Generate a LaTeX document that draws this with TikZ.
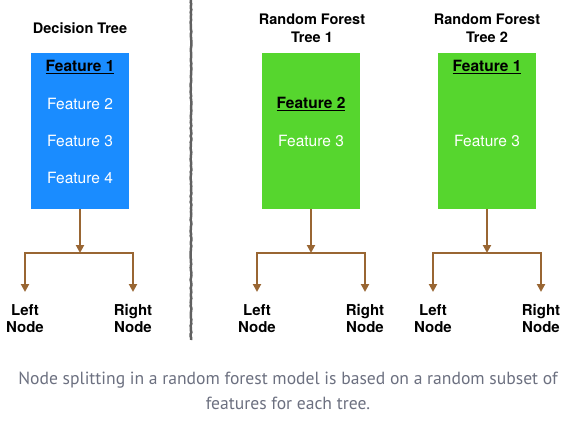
\documentclass[tikz,border=0pt]{standalone}
\usepackage{fontspec}
\setmainfont{TeX Gyre Heros}
\newfontfamily\capfont{PT Sans}
\usetikzlibrary{arrows.meta,calc,positioning,decorations.pathmorphing}
\definecolor{dtblue}{RGB}{26,140,255}
\definecolor{rfgreen}{RGB}{86,214,46}
\definecolor{splitbrown}{RGB}{153,102,51}
\definecolor{capgray}{RGB}{108,112,128}

\tikzset{
  featbox/.style={minimum width=98pt, minimum height=156pt, inner sep=0pt},
  feat/.style={white, font=\fontsize{15.5}{18}\selectfont},
  featsel/.style={black, font=\fontsize{15.5}{18}\selectfont\bfseries},
  title/.style={align=center, font=\fontsize{14.5}{18}\selectfont\bfseries},
  leaf/.style={align=center, font=\fontsize{15}{17}\selectfont\bfseries, anchor=north, inner sep=0pt},
  split/.style={splitbrown, line width=2pt, -{Triangle[width=8pt,length=8pt]}},
}

\begin{document}
\begin{tikzpicture}[x=1pt,y=-1pt]
\useasboundingbox (0,0) rectangle (575,423);

% decision tree
\node[title] (dtt) at (80,28) {Decision Tree};
\node[featbox, fill=dtblue] (dt) at (80,131) {};
\node[featsel] (dtf1) at (80,67) {\underline{Feature 1}};
\node[feat] (dtf2) at (80,104) {Feature 2};
\node[feat] (dtf3) at (80,141) {Feature 3};
\node[feat] (dtf4) at (80,178) {Feature 4};
\coordinate (dts) at (80,253);
\node[leaf] (dtl) at (25,304) {Left\\Node};
\node[leaf] (dtr) at (133,304) {Right\\Node};
\draw[split] (dt.south) -- (dts);
\draw[split, shorten >=12pt] (dts) -| (dtl.north);
\draw[split, shorten >=12pt] (dts) -| (dtr.north);

% divider
\draw[gray!75!black, line width=2.5pt, decorate,
  decoration={random steps, segment length=2pt, amplitude=0.4pt}] (191,0) -- (191,340);

% random forest tree 1
\node[title] (rf1t) at (312,28) {Random Forest\\Tree 1};
\node[featbox, fill=rfgreen] (rf1) at (311,131) {};
\node[featsel] (rf1f2) at (311,104) {\underline{Feature 2}};
\node[feat] (rf1f3) at (311,141) {Feature 3};
\coordinate (rf1s) at (311,253);
\node[leaf] (rf1l) at (257,304) {Left\\Node};
\node[leaf] (rf1r) at (365,304) {Right\\Node};
\draw[split] (rf1.south) -- (rf1s);
\draw[split, shorten >=12pt] (rf1s) -| (rf1l.north);
\draw[split, shorten >=12pt] (rf1s) -| (rf1r.north);

% random forest tree 2
\node[title] (rf2t) at (487,28) {Random Forest\\Tree 2};
\node[featbox, fill=rfgreen] (rf2) at (487,131) {};
\node[featsel] (rf2f1) at (487,67) {\underline{Feature 1}};
\node[feat] (rf2f3) at (487,141) {Feature 3};
\coordinate (rf2s) at (487,253);
\node[leaf] (rf2l) at (433,304) {Left\\Node};
\node[leaf] (rf2r) at (541,304) {Right\\Node};
\draw[split] (rf2.south) -- (rf2s);
\draw[split, shorten >=12pt] (rf2s) -| (rf2l.north);
\draw[split, shorten >=12pt] (rf2s) -| (rf2r.north);

% caption
\node[font=\capfont\fontsize{17.6}{25}\selectfont, text=capgray, align=center] (cap) at (288,391)
  {Node splitting in a random forest model is based on a random subset of\\features for each tree.};
\end{tikzpicture}
\end{document}
